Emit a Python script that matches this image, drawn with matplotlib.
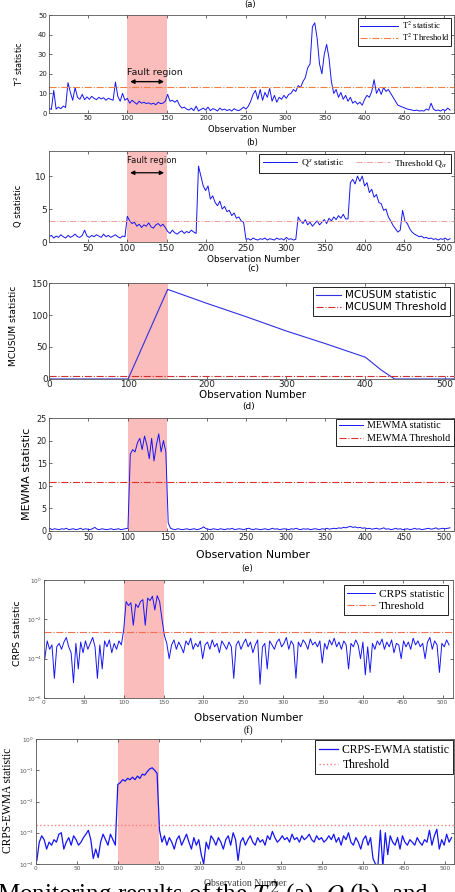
import numpy as np
import matplotlib
matplotlib.use('Agg')
import matplotlib.pyplot as plt

plt.rcParams['font.family'] = ['DejaVu Sans']
plt.rcParams['mathtext.fontset'] = 'dejavusans'

t2_vals = [2.5, 1.8, 11.5, 2.0, 3.0, 2.2, 3.5, 2.8, 15.5, 10.5,
           6.5, 13.0, 8.0, 7.0, 9.5, 6.8, 8.2, 7.0, 8.5, 7.5,
           6.8, 8.0, 7.2, 7.8, 6.5, 7.5, 7.0, 6.5, 15.8, 8.5,
           6.0, 10.0, 6.5, 7.5, 5.0, 6.5, 5.5, 4.5, 6.0, 5.0,
           5.5, 4.8, 5.2, 4.5, 5.0, 4.2, 5.5, 4.8, 5.0, 6.0,
           9.5, 6.0, 6.5, 5.5, 6.5, 4.0, 2.5, 3.0, 2.0, 1.5,
           2.5, 1.2, 3.5, 1.0, 1.8, 2.5, 1.5, 3.0, 1.2, 2.2,
           1.8, 1.0, 2.5, 1.5, 2.0, 1.2, 1.8, 1.0, 2.2, 1.5,
           1.2, 2.0, 3.0, 2.0, 3.5, 6.0, 9.5, 11.5, 7.0, 12.0,
           6.5, 10.5, 8.0, 12.5, 6.0, 9.0, 5.5, 8.0, 7.0, 9.0,
           7.5, 9.5, 10.0, 12.0, 11.0, 14.0, 13.0, 16.0, 18.0, 23.0,
           25.0, 44.0, 46.0, 38.0, 25.0, 20.0, 30.0, 35.0, 28.0, 16.0,
           10.0, 12.0, 8.0, 10.5, 7.0, 9.0, 6.0, 8.0, 5.0, 6.0,
           4.5, 5.5, 4.0, 7.0, 9.0, 8.0, 11.0, 17.0, 10.0, 12.5,
           9.5, 13.0, 11.0, 12.0, 10.0, 8.0, 6.0, 4.0, 3.5, 3.0,
           2.5, 2.0, 1.8, 1.5, 1.2, 1.5, 1.0, 1.2, 1.0, 2.0,
           1.5, 5.0, 2.0, 1.2, 1.5, 1.0, 1.8, 1.2, 2.5, 1.5]
t2_threshold = 13.2

q_vals = [0.8, 1.0, 0.6, 0.9, 0.7, 1.1, 0.8, 0.6, 1.0, 0.7,
          0.9, 1.2, 0.8, 0.7, 1.0, 1.8, 0.9, 0.7, 1.0, 0.8,
          1.1, 0.9, 0.7, 1.2, 0.8, 1.0, 0.7, 0.9, 1.1, 0.8,
          0.6, 0.9, 0.8, 3.9, 3.2, 2.8, 3.0, 2.4, 2.7, 2.2,
          2.6, 2.4, 2.9, 2.3, 2.1, 2.6, 2.8, 2.4, 2.7, 2.2,
          1.6, 1.3, 1.8, 1.4, 1.2, 1.5, 1.7, 1.3, 1.6, 1.4,
          1.8, 1.5, 1.3, 11.5, 10.0, 8.5, 7.8, 8.5, 6.5, 7.0,
          6.0, 5.5, 6.2, 5.0, 5.4, 4.6, 4.8, 4.0, 4.4, 3.6,
          3.8, 3.2, 3.0, 0.4, 0.5, 0.3, 0.6, 0.4, 0.3, 0.5,
          0.4, 0.6, 0.3, 0.5, 0.4, 0.3, 0.6, 0.4, 0.5, 0.3,
          0.7, 0.4, 0.5, 0.3, 0.4, 3.8, 3.2, 2.8, 3.4, 2.6,
          3.0, 2.4, 2.8, 3.2, 2.6, 3.0, 3.4, 2.8, 3.6, 3.2,
          3.8, 3.4, 4.0, 3.6, 4.2, 3.5, 3.5, 9.0, 9.5, 8.8,
          10.0, 9.2, 10.0, 8.5, 9.0, 7.5, 8.0, 6.8, 7.2, 6.0,
          5.8, 4.8, 5.0, 3.8, 3.2, 2.5, 2.0, 1.5, 1.8, 4.8,
          3.2, 2.8, 2.0, 1.5, 1.2, 1.0, 0.8, 0.9, 0.6, 0.7,
          0.5, 0.6, 0.4, 0.5, 0.3, 0.5, 0.4, 0.6, 0.3, 0.5]
q_threshold = 3.2

mcusum_obs = [1, 100, 150, 200, 250, 300, 350, 400, 420, 437, 512]
mcusum_vals = [0, 0, 140, 118, 97, 75, 55, 34, 14, 0, 0]
mcusum_threshold = 5.2

mewma_vals = [0.6, 0.3, 0.5, 0.4, 0.3, 0.5, 0.4, 0.6, 0.3, 0.4,
              0.5, 0.3, 0.4, 0.6, 0.3, 0.5, 0.4, 0.3, 0.5, 0.8,
              0.4, 0.3, 0.5, 0.4, 0.3, 0.4, 0.5, 0.3, 0.4, 0.5,
              0.3, 0.4, 0.5, 0.6, 17.0, 18.0, 17.5, 19.5, 20.5, 18.0,
              21.0, 19.0, 16.0, 20.5, 15.5, 19.0, 21.5, 17.5, 20.0, 17.5,
              1.8, 0.6, 0.4, 0.3, 0.5, 0.4, 0.3, 0.4, 0.5, 0.3,
              0.4, 0.5, 0.3, 0.4, 0.6, 0.9, 0.5, 0.4, 0.3, 0.5,
              0.4, 0.3, 0.5, 0.4, 0.3, 0.5, 0.4, 0.6, 0.3, 0.4,
              0.5, 0.4, 0.3, 0.5, 0.6, 0.4, 0.3, 0.5, 0.4, 0.3,
              0.4, 0.5, 0.3, 0.4, 0.6, 0.4, 0.5, 0.3, 0.4, 0.5,
              0.4, 0.3, 0.5, 0.4, 0.6, 0.4, 0.3, 0.5, 0.4, 0.5,
              0.3, 0.4, 0.5, 0.4, 0.3, 0.5, 0.4, 0.6, 0.4, 0.5,
              0.6, 0.5, 0.7, 0.6, 0.8, 0.7, 0.9, 1.0, 0.8, 0.9,
              0.7, 0.8, 0.6, 0.7, 0.5, 0.6, 0.4, 0.5, 0.6, 0.4,
              0.5, 0.7, 0.4, 0.5, 0.3, 0.4, 0.6, 0.4, 0.5, 0.3,
              0.4, 0.5, 0.3, 0.4, 0.6, 0.4, 0.5, 0.3, 0.4, 0.5,
              0.6, 0.4, 0.5, 0.7, 0.4, 0.5, 0.6, 0.5, 0.6, 0.7]
mewma_threshold = 10.8

crps_vals = [1e-4, 8e-4, 3e-4, 5e-4, 1e-5, 4e-4, 6e-4, 3e-4, 7e-4, 1.2e-3,
             4e-4, 2e-4, 6e-6, 6e-4, 3e-5, 7e-4, 2e-4, 8e-4, 3e-4, 6e-4,
             1.2e-3, 4e-4, 1e-5, 5e-4, 3e-5, 8e-4, 4e-4, 9e-4, 2e-4, 6e-4,
             3e-4, 8e-4, 5e-4, 3e-3, 0.08, 0.05, 0.07, 5e-3, 0.06, 0.04,
             0.08, 0.1, 5e-3, 0.12, 0.09, 0.15, 0.03, 0.16, 0.08, 0.01,
             1.5e-3, 6e-4, 1e-4, 5e-4, 9e-4, 3e-4, 7e-4, 4e-4, 2e-4, 8e-4,
             5e-4, 1.1e-3, 3e-4, 6e-4, 4e-4, 8e-4, 1e-4, 5e-4, 7e-4, 3e-4,
             9e-4, 4e-4, 6e-4, 2e-4, 8e-4, 5e-4, 3e-4, 7e-4, 4e-4, 1e-5,
             5e-4, 8e-4, 3e-4, 6e-4, 1e-3, 4e-4, 7e-4, 2e-4, 5e-4, 9e-4,
             5e-6, 4e-4, 6e-4, 3e-5, 8e-4, 5e-4, 3e-4, 7e-4, 1e-3, 4e-4,
             6e-4, 1.2e-3, 3e-4, 8e-4, 5e-4, 1e-5, 7e-4, 4e-4, 9e-4, 6e-4,
             3e-4, 1e-3, 5e-4, 7e-4, 4e-4, 8e-4, 6e-5, 6e-4, 3e-4, 9e-4,
             5e-4, 1.1e-3, 4e-4, 7e-4, 3e-4, 8e-4, 5e-4, 3e-5, 6e-4, 4e-4,
             9e-4, 5e-4, 1e-4, 7e-4, 1.5e-5, 4e-4, 2e-5, 6e-4, 3e-4, 8e-4,
             5e-4, 1e-3, 3e-4, 7e-4, 4e-4, 9e-4, 2e-4, 6e-4, 5e-4, 1e-4,
             8e-4, 4e-4, 7e-4, 3e-4, 1.1e-3, 5e-4, 8e-4, 4e-4, 6e-4, 1e-4,
             7e-4, 1.2e-3, 3e-4, 8e-4, 5e-4, 2e-5, 6e-4, 4e-4, 9e-4, 5e-4]
crps_threshold = 2.2e-3

crpsewma_vals = [1.3e-4, 5e-4, 8e-4, 6e-4, 3e-4, 5e-4, 4e-4, 6e-4, 5e-4, 9e-4,
                 1e-3, 3e-4, 5e-4, 7e-4, 4e-4, 8e-4, 6e-4, 4e-4, 5e-4, 7e-4,
                 9e-4, 1.2e-3, 6e-4, 1.5e-4, 3e-4, 1.6e-4, 5e-4, 9e-4, 6e-4, 4e-4,
                 9e-4, 6e-4, 4e-4, 0.035, 0.04, 0.05, 0.045, 0.055, 0.05, 0.06,
                 0.05, 0.065, 0.055, 0.075, 0.07, 0.09, 0.11, 0.12, 0.1, 0.08,
                 1.2e-3, 5e-4, 8e-4, 4e-4, 7e-4, 5e-4, 3e-4, 6e-4, 8e-4, 4e-4,
                 6e-4, 9e-4, 5e-4, 3e-4, 7e-4, 4e-4, 6e-4, 2e-4, 1e-4, 5e-4,
                 3e-4, 8e-4, 6e-4, 4e-4, 7e-4, 5e-4, 3e-4, 6e-4, 8e-4, 4e-4,
                 1e-3, 6e-4, 1.3e-4, 5e-4, 7e-4, 4e-4, 6e-4, 8e-4, 5e-4, 4e-4,
                 7e-4, 5e-4, 6e-4, 4e-4, 8e-4, 6e-4, 1.1e-3, 7e-4, 5e-4, 6e-4,
                 8e-4, 6e-4, 7e-4, 5e-4, 9e-4, 6e-4, 7e-4, 5e-4, 8e-4, 6e-4,
                 7e-4, 9e-4, 6e-4, 5e-4, 8e-4, 6e-4, 7e-4, 5e-4, 6e-4, 8e-4,
                 6e-4, 9e-4, 5e-4, 7e-4, 4e-4, 8e-4, 6e-4, 1e-3, 5e-4, 4e-4,
                 7e-4, 5e-4, 3e-4, 6e-4, 8e-4, 4e-4, 7e-4, 1.5e-4, 1e-4, 9e-5,
                 1.2e-3, 8e-5, 1e-3, 2e-4, 8e-4, 5e-4, 4e-4, 7e-4, 3e-4, 8e-4,
                 5e-4, 4e-4, 6e-4, 5e-4, 4e-4, 7e-4, 5e-4, 4e-4, 6e-4, 5e-4,
                 1.2e-3, 4e-4, 8e-4, 1.3e-3, 3e-4, 6e-4, 4e-4, 9e-4, 5e-4, 7e-4]
crpsewma_threshold = 1.8e-3

fault_start, fault_end = 100, 150


def obs(vals):
    return 1 + 3 * np.arange(len(vals))


# ---------------- layout ----------------
W, H = 455, 892
fig = plt.figure(figsize=(W / 100, H / 100), dpi=100)
SERIF = ['Liberation Serif', 'DejaVu Serif']
BLUE = '#1515f5'
FAULT = '#fbbcbc'


def ax_px(L, T, R, B):
    return fig.add_axes([L / W, 1 - B / H, (R - L) / W, (B - T) / H])


def ftext(x, y, s, **kw):
    return fig.text(x / W, 1 - y / H, s, ha='center', va='center', **kw)


def style(ax, fs, color='#222222', pad=1.5):
    ax.tick_params(direction='in', top=True, right=True, labelsize=fs, length=2.5,
                   width=0.5, pad=pad, colors='#333333', labelcolor=color)
    for s in ax.spines.values():
        s.set_linewidth(0.6)
        s.set_color('#555555')


def legend(ax, fs, fam, math='stix', **kw):
    opts = dict(loc='upper right', frameon=True, fancybox=False, framealpha=1,
                edgecolor='#222222', borderpad=0.3, labelspacing=0.2,
                handletextpad=0.4, borderaxespad=0.25)
    opts.update(kw)
    lg = ax.legend(prop={'family': fam, 'size': fs, 'math_fontfamily': math}, **opts)
    lg.get_frame().set_linewidth(0.7)
    return lg


# (a) T^2
ax = ax_px(49, 15, 454, 113)
ax.axvspan(fault_start, fault_end, color=FAULT, lw=0, zorder=0)
ax.plot(obs(t2_vals), t2_vals, color=BLUE, lw=0.7, label=r'T$^2$ statistic')
ax.axhline(t2_threshold, color='#f08040', ls='-.', lw=0.8, label=r'T$^2$ Threshold')
ax.set_xlim(1, 513)
ax.set_ylim(0, 50)
ax.set_xticks(np.arange(50, 501, 50))
ax.set_yticks(np.arange(0, 51, 10))
style(ax, 5)
legend(ax, 6.2, SERIF, handlelength=4.4, borderaxespad=0.3, labelspacing=0.1, borderpad=0.25)
ax.annotate('', xy=(fault_start, 16), xytext=(fault_end, 16),
            arrowprops=dict(arrowstyle='<|-|>', color='k', lw=1.0, mutation_scale=6))
ax.text(fault_start, 20.5, 'Fault region', fontsize=6.8, va='center', ha='left', color='#111')
ftext(250, 5, '(a)', fontsize=6)
ftext(252, 130, 'Observation Number', fontsize=6)
ftext(19, 64, r'T$^2$ statistic', fontsize=5.8, rotation=90)

# (b) Q
ax = ax_px(49, 151, 454, 242)
ax.axvspan(fault_start, fault_end, color=FAULT, lw=0, zorder=0)
ax.plot(obs(q_vals), q_vals, color=BLUE, lw=0.7, label=r'Q$^s$ statistic')
ax.axhline(q_threshold, color='#f0a0a0', ls='-.', lw=0.7, label=r'Threshold Q$_\alpha$')
ax.set_xlim(1, 513)
ax.set_ylim(0, 13.8)
ax.set_xticks(np.arange(50, 501, 50))
ax.set_yticks([0, 5, 10])
style(ax, 6.5)
legend(ax, 6.8, SERIF, ncol=2, handlelength=3.6, columnspacing=1.3, borderaxespad=0.3,
       borderpad=0.4)
ax.annotate('', xy=(fault_start, 10.5), xytext=(fault_end, 10.5),
            arrowprops=dict(arrowstyle='<|-|>', color='k', lw=0.9, mutation_scale=6))
ax.text(fault_start, 12.3, 'Fault region', fontsize=6, va='center', ha='left', color='#111')
ftext(252, 143, '(b)', fontsize=6)
ftext(253, 259, 'Observation Number', fontsize=6.4)
ftext(19, 206, 'Q statistic', fontsize=6, rotation=90)

# (c) MCUSUM
ax = ax_px(49, 283, 454, 379)
ax.axvspan(fault_start, fault_end, color=FAULT, lw=0, zorder=0)
ax.plot(mcusum_obs, mcusum_vals, color='#3030e0', lw=0.8, label='MCUSUM statistic')
ax.axhline(mcusum_threshold, color='#d03030', ls='-.', lw=0.8, label='MCUSUM Threshold')
ax.set_xlim(0, 512)
ax.set_ylim(0, 150)
ax.set_xticks(np.arange(0, 501, 100))
ax.set_yticks([0, 50, 100, 150])
style(ax, 6.4, pad=0.8)
legend(ax, 7.5, 'DejaVu Sans', handlelength=2.4, borderaxespad=0.4)
ftext(253, 268, '(c)', fontsize=6.5)
ftext(253, 395, 'Observation Number', fontsize=7.4)
ftext(14, 326, 'MCUSUM statistic', fontsize=6.6, rotation=90)

# (d) MEWMA
ax = ax_px(49, 418, 454, 531)
ax.axvspan(fault_start, fault_end, color=FAULT, lw=0, zorder=0)
ax.plot(obs(mewma_vals), mewma_vals, color=BLUE, lw=0.7, label='MEWMA statistic')
ax.axhline(mewma_threshold, color='#e03030', ls='-.', lw=0.8, label='MEWMA Threshold')
ax.set_xlim(0, 513)
ax.set_ylim(0, 25)
ax.set_xticks(np.arange(0, 501, 50))
ax.set_yticks(np.arange(0, 26, 5))
style(ax, 5.8)
legend(ax, 7.2, SERIF, handlelength=2.4, borderaxespad=0.05, labelspacing=0.35)
ftext(249, 407, '(d)', fontsize=6.5)
ftext(253, 555, 'Observation Number', fontsize=7.8)
ftext(27, 474, 'MEWMA statistic', fontsize=8, rotation=90)

# (e) CRPS
ax = ax_px(44, 580, 453, 698)
ax.axvspan(fault_start, fault_end, color=FAULT, lw=0, zorder=0)
ax.plot(obs(crps_vals), crps_vals, color=BLUE, lw=0.7, label='CRPS statistic')
ax.axhline(crps_threshold, color='#f07050', ls='-.', lw=0.8, label='Threshold')
ax.set_yscale('log')
ax.set_xlim(0, 513)
ax.set_ylim(1e-6, 1)
ax.set_xticks(np.arange(0, 501, 50))
ax.set_yticks([1e-6, 1e-4, 1e-2, 1])
ax.minorticks_off()
style(ax, 4.2, color='#555555')
legend(ax, 8.2, SERIF, handlelength=2.4, borderaxespad=0.45, labelspacing=0.25)
ftext(247, 568, '(e)', fontsize=6)
ftext(248, 718, 'Observation Number', fontsize=7.5)
ftext(18, 633, 'CRPS statistic', fontsize=6.8, rotation=90)

# (f) CRPS-EWMA
ax = ax_px(36, 739, 454, 864)
ax.axvspan(fault_start, fault_end, color=FAULT, lw=0, zorder=0)
ax.plot(obs(crpsewma_vals), crpsewma_vals, color=BLUE, lw=0.9, label='CRPS-EWMA statistic')
ax.axhline(crpsewma_threshold, color='#ff8080', ls=':', lw=1.0, label='Threshold')
ax.set_yscale('log')
ax.set_xlim(0, 511)
ax.set_ylim(1e-4, 1)
ax.set_xticks(np.arange(0, 501, 50))
ax.set_yticks([1e-4, 1e-3, 1e-2, 1e-1, 1])
ax.minorticks_off()
style(ax, 4.2, color='#555555')
legend(ax, 8.4, SERIF, handlelength=1.6, borderaxespad=0.1, labelspacing=0.25)
ftext(248, 730, '(f)', fontsize=7, family=SERIF)
ftext(245, 883, 'Observation Number', fontsize=7, family=SERIF, color='#444444')
ftext(8, 800, 'CRPS-EWMA statistic', fontsize=8.3, family=SERIF, rotation=90)

# caption fragment at the bottom edge (cut by the image border, as in the reference)
cap = fig.text(-3 / W, 1 - 879 / H, r'Monitoring results of the $T^2$ (a), $Q$ (b), and',
               fontsize=18, family=SERIF, va='top', ha='left')
cap.set_math_fontfamily('stix')

fig.savefig('out.png', dpi=100)
